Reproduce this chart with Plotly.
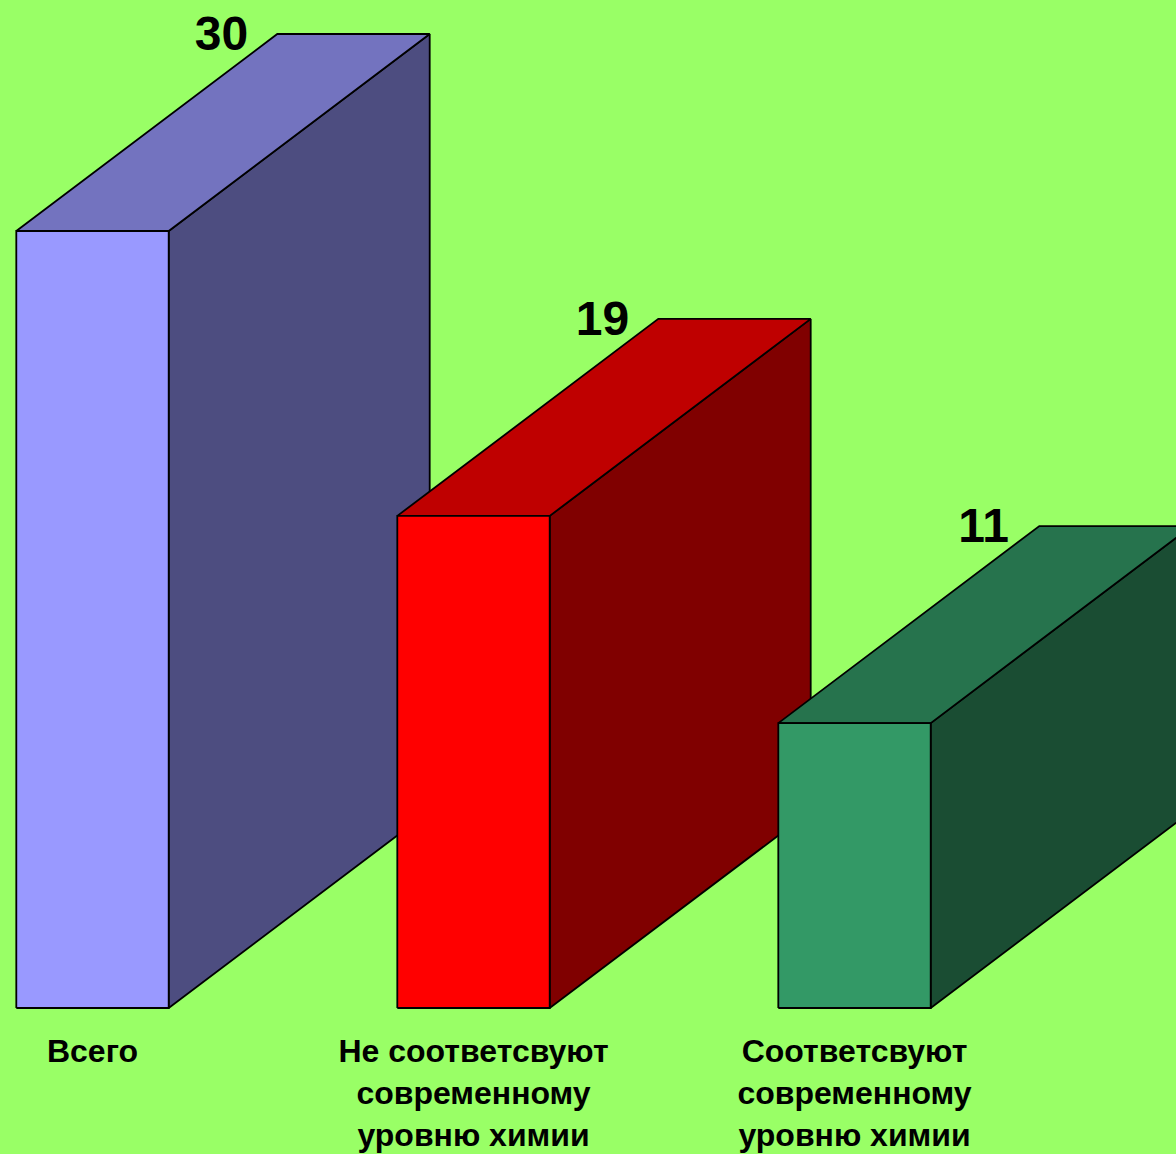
import plotly.graph_objects as go

categories = ["Всего", "Не соответсвуют<br>современному<br>уровню химии", "Соответсвуют<br>современному<br>уровню химии"]
values = [30, 19, 11]
front_colors = ["#9999FF", "#FF0000", "#339966"]
top_colors = ["#7373BF", "#BF0000", "#26734D"]
side_colors = ["#4D4D80", "#800000", "#1A4D33"]

W, H = 1176, 1154
PX_PER_UNIT = 25.9
STEP_PX = 381.0
X0_PX = 92.5
BASE_PX = 1008.0
BOTTOM_PAD = 5.0
HALF = 0.2
DEPTH_X = 261 / STEP_PX
DEPTH_Y = 197 / PX_PER_UNIT
LABEL_DX = 129 / STEP_PX
LABEL_DY = -4 / PX_PER_UNIT

fig = go.Figure()


def face(xs, ys, color):
    fig.add_trace(go.Scatter(
        x=xs + xs[:1], y=ys + ys[:1], mode="lines", fill="toself", fillcolor=color,
        line=dict(color="#000000", width=1.8), hoverinfo="skip", showlegend=False,
    ))


for i, v in enumerate(values):
    l, r = i - HALF, i + HALF
    face([r, r + DEPTH_X, r + DEPTH_X, r], [0, DEPTH_Y, v + DEPTH_Y, v], side_colors[i])
    face([l, r, r + DEPTH_X, l + DEPTH_X], [v, v, v + DEPTH_Y, v + DEPTH_Y], top_colors[i])
    face([l, r, r, l], [0, 0, v, v], front_colors[i])

fig.add_trace(go.Scatter(
    x=[i + LABEL_DX for i in range(len(values))],
    y=[v + DEPTH_Y + LABEL_DY for v in values],
    mode="text", text=[str(v) for v in values], textposition="middle center",
    textfont=dict(family="Liberation Sans", size=48, color="#000000", weight="bold"),
    hoverinfo="skip", showlegend=False, cliponaxis=False,
))

fig.update_layout(
    width=W, height=H, autosize=False,
    margin=dict(l=0, r=0, t=0, b=H - BASE_PX - BOTTOM_PAD, pad=0, autoexpand=False),
    paper_bgcolor="#99FF66", plot_bgcolor="#99FF66", showlegend=False,
    xaxis=dict(
        range=[-X0_PX / STEP_PX, (W - X0_PX) / STEP_PX], showgrid=False, zeroline=False,
        showline=False, tickmode="array", tickvals=list(range(len(categories))), ticktext=categories,
        ticks="outside", ticklen=10, tickcolor="rgba(0,0,0,0)", tickangle=0, automargin=False,
        tickfont=dict(family="Liberation Sans", size=32, color="#000000", weight="bold"),
    ),
    yaxis=dict(
        range=[-BOTTOM_PAD / PX_PER_UNIT, BASE_PX / PX_PER_UNIT], showgrid=False, zeroline=False,
        showline=False, showticklabels=False, ticks="", automargin=False,
    ),
)

fig.write_html(
    "out.html",
    config={"displayModeBar": False},
    post_script="document.body.style.margin='0';document.body.style.overflow='hidden';",
)
